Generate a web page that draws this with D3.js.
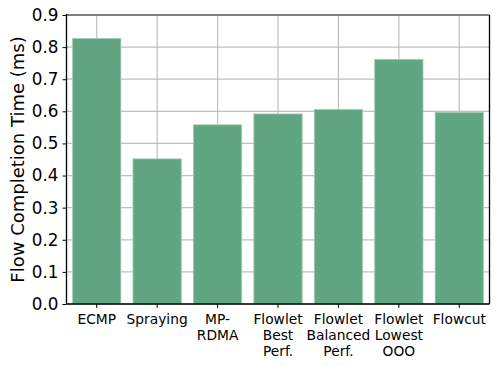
<!DOCTYPE html>
<html><head><meta charset="utf-8">
<script src="https://cdn.jsdelivr.net/npm/d3@7"></script>
<style>body{margin:0;background:#fff}svg{display:block}</style>
</head><body>
<svg id="c" width="498" height="366"></svg>
<script>
const categories = [["ECMP"],["Spraying"],["MP-","RDMA"],["Flowlet","Best","Perf."],["Flowlet","Balanced","Perf."],["Flowlet","Lowest","OOO"],["Flowcut"]];
const values = [0.827, 0.452, 0.558, 0.592, 0.606, 0.762, 0.597];
const yTicks = [0,0.1,0.2,0.3,0.4,0.5,0.6,0.7,0.8,0.9];
const yLabel = "Flow Completion Time (ms)";

const svg = d3.select("#c");
const L = 66.5, R = 489.5, T = 15, B = 304;
const font = "DejaVu Sans, sans-serif";
const keys = categories.map((c,i)=>i);
const x = d3.scaleBand().domain(keys).range([L,R]).paddingInner(0.2).paddingOuter(0.1);
const y = d3.scaleLinear().domain([0,0.9]).range([B,T]);

// grid
const g = svg.append("g");
g.selectAll("line.h").data(yTicks).join("line")
  .attr("x1",L).attr("x2",R).attr("y1",d=>y(d)).attr("y2",d=>y(d))
  .attr("stroke","#b0b0b0").attr("stroke-width",1.2).attr("opacity",0.8);
g.selectAll("line.v").data(keys).join("line")
  .attr("x1",d=>x(d)+x.bandwidth()/2).attr("x2",d=>x(d)+x.bandwidth()/2)
  .attr("y1",T).attr("y2",B)
  .attr("stroke","#b0b0b0").attr("stroke-width",1.2).attr("opacity",0.8);

// bars
svg.selectAll("rect.bar").data(values).join("rect")
  .attr("x",(d,i)=>x(i)).attr("width",x.bandwidth())
  .attr("y",d=>y(d)).attr("height",d=>B-y(d))
  .attr("fill","#61a682").attr("stroke","#a9cfb8").attr("stroke-width",0.8);

// top border
svg.append("line").attr("x1",L).attr("x2",R).attr("y1",T).attr("y2",T)
  .attr("stroke","#808080").attr("stroke-width",2);

// axes
const ya = svg.append("g").attr("transform",`translate(${L},0)`)
  .call(d3.axisLeft(y).tickValues(yTicks).tickFormat(d3.format(".1f")).tickSize(4).tickPadding(4));
ya.select(".domain").remove();
ya.selectAll("text").attr("font-family",font).attr("font-size",16.8).attr("fill","#000");
ya.selectAll("line").attr("stroke","#000").attr("stroke-width",1);

const xa = svg.append("g").attr("transform",`translate(0,${B})`)
  .call(d3.axisBottom(x).tickSize(4).tickFormat(""));
xa.select(".domain").remove();
xa.selectAll("line").attr("stroke","#000").attr("stroke-width",1);
xa.selectAll(".tick").each(function(d){
  const t = d3.select(this).select("text").attr("font-family",font).attr("font-size",13.8).attr("fill","#000").attr("y",0).attr("dy",null);
  categories[d].forEach((s,j)=>{
    t.append("tspan").attr("x",0).attr("y",19.5+j*16).text(s);
  });
});

// spines
svg.append("line").attr("x1",L).attr("x2",L).attr("y1",T-1).attr("y2",B).attr("stroke","#000").attr("stroke-width",1.3);
svg.append("line").attr("x1",R).attr("x2",R).attr("y1",T).attr("y2",B).attr("stroke","#000").attr("stroke-width",1.3);
svg.append("line").attr("x1",L).attr("x2",R).attr("y1",B).attr("y2",B).attr("stroke","#000").attr("stroke-width",1.3);

svg.append("text").attr("transform",`translate(23.5,${(T+B)/2}) rotate(-90)`)
  .attr("text-anchor","middle").attr("font-family",font).attr("font-size",18).attr("fill","#000")
  .text(yLabel);
</script>
</body></html>
